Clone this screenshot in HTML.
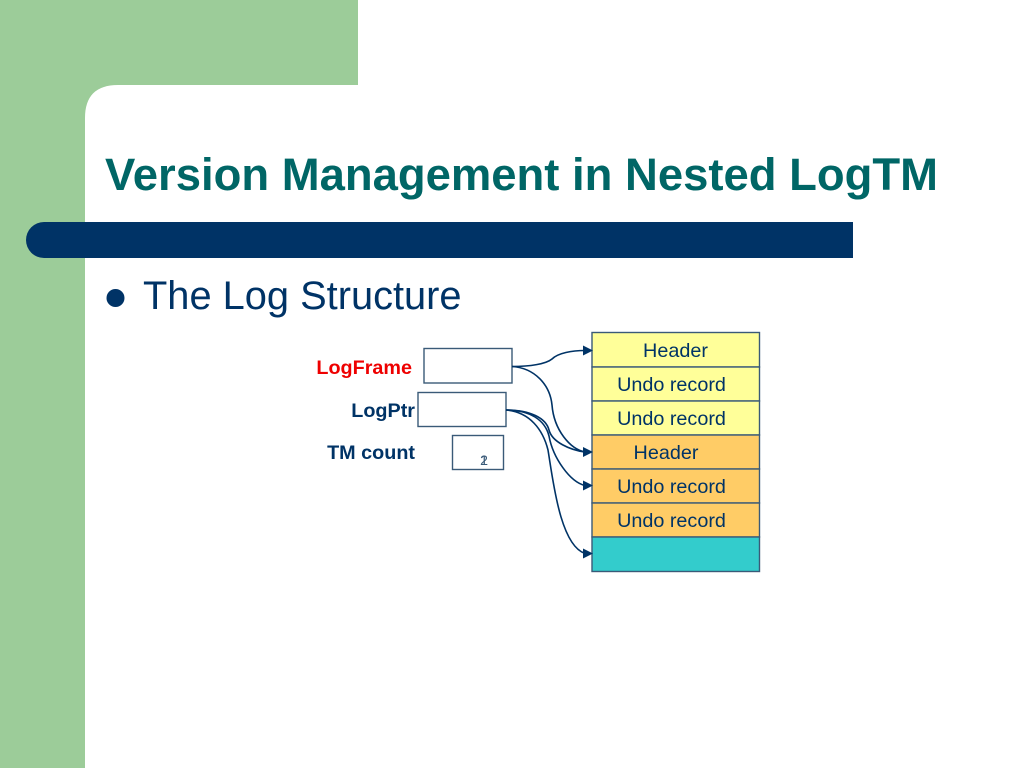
<!DOCTYPE html>
<html>
<head>
<meta charset="utf-8">
<style>
html,body{margin:0;padding:0;background:#fff}
svg{display:block}
text{font-family:"Liberation Sans",sans-serif}
</style>
</head>
<body>
<svg width="1024" height="768" viewBox="0 0 1024 768" xmlns="http://www.w3.org/2000/svg">
<rect width="1024" height="768" fill="#fff"/>
<path d="M0 0H358V85H118Q85 85 85 118V768H0Z" fill="#9ccc99"/>
<path d="M44 222H853V258H44A18 18 0 0 1 44 222Z" fill="#003366"/>
<text x="105" y="190" font-size="45" font-weight="bold" fill="#006666" textLength="833" lengthAdjust="spacingAndGlyphs">Version Management in Nested LogTM</text>
<circle cx="115.500" cy="298" r="9" fill="#003366"/>
<text x="143" y="309" font-size="39.800" fill="#003366">The Log Structure</text>

<g stroke="#3a5a78" stroke-width="1.400">
<rect x="592" y="332.500" width="167.500" height="34.500" fill="#ffff99"/>
<rect x="592" y="367" width="167.500" height="34" fill="#ffff99"/>
<rect x="592" y="401" width="167.500" height="34" fill="#ffff99"/>
<rect x="592" y="435" width="167.500" height="34" fill="#ffcc66"/>
<rect x="592" y="469" width="167.500" height="34" fill="#ffcc66"/>
<rect x="592" y="503" width="167.500" height="34" fill="#ffcc66"/>
<rect x="592" y="537" width="167.500" height="34.500" fill="#33cccc"/>
<rect x="424" y="348.500" width="88" height="34.500" fill="#fff"/>
<rect x="418" y="392.500" width="88" height="34" fill="#fff"/>
<rect x="452.500" y="435.500" width="51" height="34" fill="#fff"/>
</g>

<g font-size="19.800" fill="#003366" text-anchor="middle">
<text x="675.500" y="357">Header</text>
<text x="671.500" y="391">Undo record</text>
<text x="671.500" y="425">Undo record</text>
<text x="666" y="459">Header</text>
<text x="671.500" y="493">Undo record</text>
<text x="671.500" y="527">Undo record</text>
</g>

<g font-size="19.800" font-weight="bold" text-anchor="end">
<text x="412" y="374" fill="#ee0000">LogFrame</text>
<text x="415" y="417" fill="#003366">LogPtr</text>
<text x="415" y="459" fill="#003366">TM count</text>
</g>
<text x="484" y="465" font-size="14" fill="#3a5a78" text-anchor="middle">1</text>
<text x="484" y="465" font-size="14" fill="#3a5a78" text-anchor="middle">2</text>

<g fill="none" stroke="#003366" stroke-width="1.600">
<path d="M512 366.500C530 366.500 546 364 552 359C558 353 572 350.500 585 350.500"/>
<path d="M512 366.500C535 368 550 385 552 405C554 430 570 449 585 452"/>
<path d="M506 410C530 410 546 418 549 430C552 442 570 450 585 452"/>
<path d="M506 410C530 410 545 420 549 436C553 458 570 482 585 485.500"/>
<path d="M506 410C530 412 543 430 548 450C553 480 560 545 585 553.500"/>
</g>
<g fill="#003366">
<path d="M583 345.500L593 350.500L583 355.500Z"/>
<path d="M583 447L593 452L583 457Z"/>
<path d="M583 480.500L593 485.500L583 490.500Z"/>
<path d="M583 548.500L593 553.500L583 558.500Z"/>
</g>
</svg>
</body>
</html>
